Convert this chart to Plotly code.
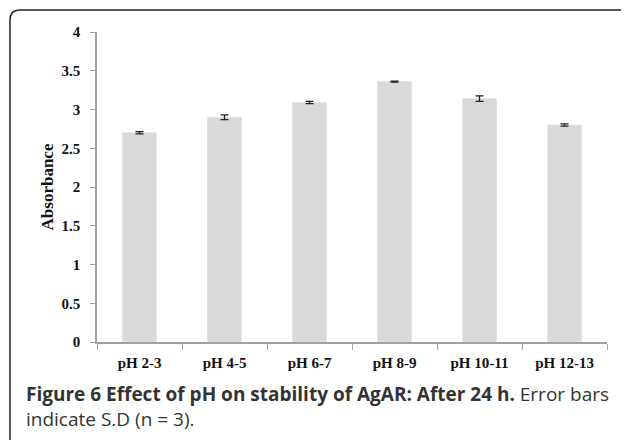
import plotly.graph_objects as go

categories = ["pH 2-3", "pH 4-5", "pH 6-7", "pH 8-9", "pH 10-11", "pH 12-13"]
absorbance = [2.70, 2.90, 3.09, 3.36, 3.14, 2.80]
sd = [0.015, 0.03, 0.015, 0.005, 0.035, 0.015]
y_ticks = [0, 0.5, 1, 1.5, 2, 2.5, 3, 3.5, 4]

fig = go.Figure()
fig.add_trace(go.Bar(
    x=categories, y=absorbance,
    marker=dict(color="#d9d9d9", line=dict(color="#e4e4e4", width=1)),
    width=0.4,
    error_y=dict(type="data", array=sd, visible=True, color="#222222", thickness=1.3, width=4),
))

fig.update_layout(
    width=621, height=432,
    margin=dict(l=89, r=22, t=24, b=98),
    plot_bgcolor="white", paper_bgcolor="white",
    showlegend=False,
    xaxis=dict(
        showline=True, linecolor="#a0a0a0", linewidth=1.5,
        ticks="outside", tickson="boundaries", ticklen=6, tickcolor="#a0a0a0",
        ticklabelstandoff=6,
        tickvals=categories, ticktext=[f"<b>{c}</b>" for c in categories],
        tickfont=dict(family="Liberation Serif", size=15, color="#111111"),
        showgrid=False, range=[-0.5, 5.5],
    ),
    yaxis=dict(
        range=[0, 4], tickvals=y_ticks, ticktext=[f"<b>{v:g}</b>" for v in y_ticks],
        showline=True, linecolor="#a0a0a0", linewidth=1.5,
        ticks="outside", ticklen=5, tickcolor="#a0a0a0",
        ticklabelstandoff=7,
        tickfont=dict(family="Liberation Serif", size=15, color="#111111"),
        showgrid=False, zeroline=False,
        title=dict(text="<b>Absorbance</b>", font=dict(family="Liberation Serif", size=17, color="#111111"), standoff=4),
    ),
)

# frame with rounded top-left corner
fig.add_shape(type="path", xref="paper", yref="paper",
              path="M -0.1706 -0.33 L -0.1706 1.039 Q -0.1706 1.071 -0.151 1.071 L 1.030 1.071 Q 1.037 1.071 1.037 1.064",
              line=dict(color="#222222", width=1.5))

fig.add_annotation(xref="paper", yref="paper", x=-0.143, y=-0.118, xanchor="left", yanchor="top",
                   align="left", showarrow=False,
                   text="<b>Figure 6 Effect of pH on stability of AgAR: After 24 h.</b> Error bars<br>indicate S.D (n = 3).",
                   font=dict(family="Open Sans", size=19, color="#333333"))

fig.write_html("out.html")
